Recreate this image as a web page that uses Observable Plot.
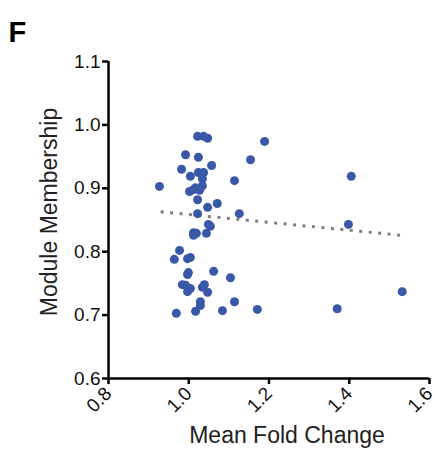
<!DOCTYPE html>
<html>
<head>
<meta charset="utf-8">
<script src="https://cdn.jsdelivr.net/npm/d3@7"></script>
<script src="https://cdn.jsdelivr.net/npm/@observablehq/plot@0.6"></script>
<style>
  html, body { margin: 0; padding: 0; background: #fff; }
  svg { display: block; }
</style>
</head>
<body>
<div id="chart"></div>
<script>
const panelLetter = "F";
const xTitle = "Mean Fold Change";
const yTitle = "Module Membership";
const xTicks = [0.8, 1.0, 1.2, 1.4, 1.6];
const yTicks = [0.6, 0.7, 0.8, 0.9, 1.0, 1.1];

const meanFoldChange = [
  0.927, 0.992, 1.022, 1.037, 1.047, 1.189, 1.154, 1.024, 1.057, 0.982,
  1.024, 1.037, 1.004, 1.034, 1.114, 1.034, 1.017, 1.002, 1.012, 1.027,
  1.022, 1.071, 1.047, 1.022, 1.126, 1.049, 1.054, 1.012, 1.012, 1.019,
  1.044, 0.977, 0.964, 0.997, 1.004, 0.999, 0.997, 1.062, 1.104, 0.984,
  0.992, 1.004, 0.997, 1.039, 1.034, 1.047, 1.029, 1.029, 1.114, 1.017,
  1.084, 0.969, 1.171, 1.370, 1.532, 1.405, 1.398
];
const moduleMembership = [
  0.903, 0.953, 0.982, 0.982, 0.979, 0.974, 0.945, 0.949, 0.936, 0.930,
  0.925, 0.925, 0.919, 0.915, 0.912, 0.904, 0.901, 0.895, 0.898, 0.897,
  0.882, 0.876, 0.870, 0.860, 0.860, 0.843, 0.840, 0.830, 0.826, 0.829,
  0.829, 0.802, 0.788, 0.789, 0.791, 0.767, 0.764, 0.769, 0.759, 0.748,
  0.747, 0.742, 0.737, 0.748, 0.744, 0.736, 0.721, 0.715, 0.721, 0.706,
  0.707, 0.703, 0.709, 0.710, 0.737, 0.919, 0.843
];

// fitted trend line (end points)
const fitFold = [0.930, 1.527];
const fitMembership = [0.863, 0.826];

const data = meanFoldChange.map((x, i) => ({x, y: moduleMembership[i]}));
const fit = fitFold.map((x, i) => ({x, y: fitMembership[i]}));
const fmt = d3.format(".1f");
const font = "'Liberation Sans', Arial, Helvetica, sans-serif";

const chart = Plot.plot({
  width: 436,
  height: 449,
  marginLeft: 108,
  marginRight: 7,
  marginTop: 61,
  marginBottom: 71,
  style: {fontFamily: font, background: "#fff", overflow: "visible"},
  x: {domain: [0.8, 1.6]},
  y: {domain: [0.6, 1.1]},
  marks: [
    Plot.axisY({
      ticks: yTicks, tickFormat: fmt, tickSize: 6, tickPadding: 2,
      strokeWidth: 2.5, fontSize: 19, fill: "#111", label: null
    }),
    Plot.axisX({
      ticks: xTicks, tickFormat: fmt, tickSize: 6, tickPadding: 6, tickRotate: -45,
      strokeWidth: 2.5, fontSize: 19, fill: "#111", label: null
    }),
    Plot.ruleX([0.8], {strokeWidth: 2.5, stroke: "#000"}),
    Plot.ruleY([0.6], {strokeWidth: 2.5, stroke: "#000"}),
    Plot.line(fit, {
      x: "x", y: "y", stroke: "#7f7f7f", strokeWidth: 3,
      strokeDasharray: "3,6.5", strokeLinecap: "butt"
    }),
    Plot.dot(data, {x: "x", y: "y", r: 4.5, fill: "#3a58a8", stroke: "none"}),
    Plot.text([xTitle], {
      frameAnchor: "bottom", dx: 18, dy: 64, fontSize: 23, fill: "#222", textAnchor: "middle"
    }),
    Plot.text([yTitle], {
      frameAnchor: "left", rotate: -90, dx: -59, dy: -8, fontSize: 23, fill: "#222",
      textAnchor: "middle", lineAnchor: "middle"
    }),
    Plot.text([panelLetter], {
      frameAnchor: "top-left", dx: -100, dy: -40, fontSize: 29, fontWeight: "bold", fill: "#000", textAnchor: "start"
    })
  ]
});
document.getElementById("chart").appendChild(chart);
</script>
</body>
</html>
